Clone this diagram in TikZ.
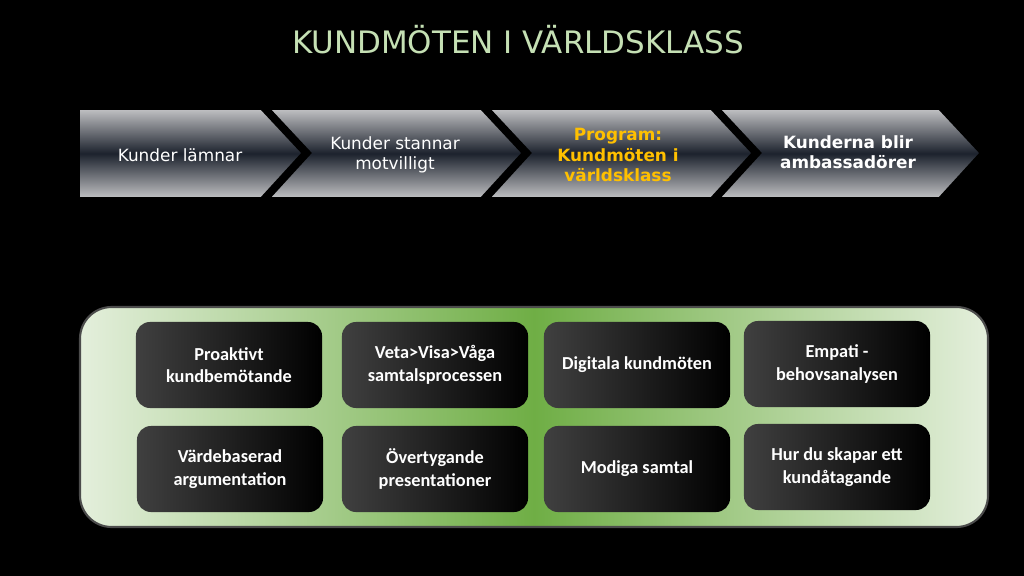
\documentclass[tikz,border=0pt]{standalone}
\usepackage{fontspec}
\setmainfont{DejaVu Sans}
\newfontfamily\boxfont{Carlito}
\usepackage{xcolor}
\definecolor{titlegreen}{HTML}{C5E0B4}
\definecolor{chevdark}{HTML}{1C222D}
\definecolor{chevlight}{HTML}{C8C8CA}
\definecolor{panelgreen}{HTML}{6FAE45}
\definecolor{panellight}{HTML}{E4EFDC}
\definecolor{progyellow}{HTML}{FFC000}
\usetikzlibrary{positioning}
\tikzset{
  chev/.style={top color=chevlight,bottom color=chevlight,middle color=chevdark,draw=black,line width=1.6pt},
  chevtext/.style={text=white,align=center,font=\fontsize{4.8pt}{5.8pt}\selectfont},
  topic/.style={draw=none,rounded corners=4pt,minimum width=1.86cm,minimum height=0.86cm,
    left color=black!75!white,right color=black,text=white,align=center,
    font=\boxfont\bfseries\fontsize{5.2pt}{6.4pt}\selectfont},
}
\begin{document}
\begin{tikzpicture}[x=0.01cm,y=-0.01cm]
\fill[black](0,0)rectangle(1024,576);

\node[text=titlegreen,font=\fontsize{8.8pt}{10pt}\selectfont](title)at(518,40){KUNDMÖTEN I VÄRLDSKLASS};

% chevrons
\shade[chev](77,107)--(262,107)--(305,153)--(262,200)--(77,200)--cycle;
\shade[chev](265,107)--(482,107)--(525,153)--(482,200)--(265,200)--(308,153)--cycle;
\shade[chev](485,107)--(712,107)--(755,153)--(712,200)--(485,200)--(528,153)--cycle;
\shade[chev](715,107)--(940,107)--(983,153)--(940,200)--(715,200)--(758,153)--cycle;
\node[chevtext](s1)at(180,155){Kunder lämnar};
\node[chevtext](s2)at(395,155){Kunder stannar\\motvilligt};
\node[chevtext,text=progyellow,font=\bfseries\fontsize{4.8pt}{5.8pt}\selectfont](s3)at(618,155){Program:\\Kundmöten i\\världsklass};
\node[chevtext,font=\bfseries\fontsize{4.8pt}{5.8pt}\selectfont](s4)at(848,152){Kunderna blir\\ambassadörer};

% panel
\shade[rounded corners=9pt,left color=panellight,right color=panellight,middle color=panelgreen,draw=black!70,line width=0.6pt](80,307)rectangle(988,527);

\node[topic](t1)at(229,365){Proaktivt\\kundbemötande};
\node[topic](t2)at(435,365){Veta>Visa>Våga\\samtalsprocessen};
\node[topic](t3)at(637,365){Digitala kundmöten};
\node[topic](t4)at(837,364){Empati -\\behovsanalysen};
\node[topic](t5)at(230,469){Värdebaserad\\argumentation};
\node[topic](t6)at(435,469){Övertygande\\presentationer};
\node[topic](t7)at(637,469){Modiga samtal};
\node[topic](t8)at(837,467){Hur du skapar ett\\kundåtagande};
\end{tikzpicture}
\end{document}
